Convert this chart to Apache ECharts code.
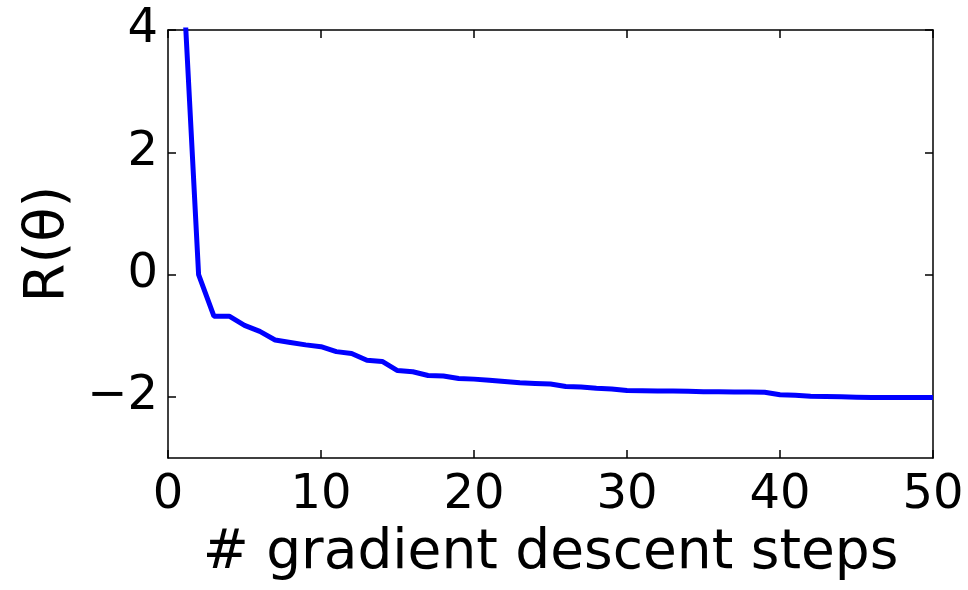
<!DOCTYPE html>
<html>
<head>
<meta charset="utf-8">
<script src="https://cdn.jsdelivr.net/npm/echarts@6/dist/echarts.min.js"></script>
<style>
html,body{margin:0;padding:0;background:#fff;}
#chart{width:968px;height:590px;}
</style>
</head>
<body>
<div id="chart"></div>
<script>
// Data
var steps = [1,2,3,4,5,6,7,8,9,10,11,12,13,14,15,16,17,18,19,20,21,22,23,24,25,26,27,28,29,30,31,32,33,34,35,36,37,38,39,40,41,42,43,44,45,46,47,48,49,50];
var risk = [4.8,0.0,-0.68,-0.68,-0.83,-0.93,-1.07,-1.11,-1.15,-1.18,-1.26,-1.29,-1.40,-1.42,-1.57,-1.59,-1.65,-1.66,-1.70,-1.71,-1.73,-1.75,-1.77,-1.78,-1.79,-1.83,-1.84,-1.86,-1.87,-1.895,-1.90,-1.905,-1.905,-1.91,-1.915,-1.915,-1.92,-1.92,-1.925,-1.965,-1.975,-1.99,-1.995,-2.0,-2.005,-2.01,-2.01,-2.01,-2.01,-2.01];
var xTicks = [0,10,20,30,40,50];
var yTicks = [-2,0,2,4];
var xName = '# gradient descent steps';
var yName = 'R(\u03B8)';

var FONT = "'DejaVu Sans', sans-serif";
var fmt = function (v) { return String(v).replace('-', '\u2212'); };

var chart = echarts.init(document.getElementById('chart'), null, {renderer: 'canvas'});
var axisLine = {show: true, onZero: false, lineStyle: {color: '#000', width: 1.5}};
var tick = {show: true, inside: true, length: 8, lineStyle: {color: '#000', width: 1.5}};

chart.setOption({
  animation: false,
  backgroundColor: '#fff',
  grid: {left: 168, right: 35, top: 30, bottom: 132, containLabel: false},
  xAxis: [{
    type: 'value', min: 0, max: 50, position: 'bottom',
    axisLine: axisLine,
    axisTick: Object.assign({}, tick, {customValues: xTicks}),
    axisLabel: {customValues: xTicks, formatter: fmt, color: '#000', fontFamily: FONT, fontSize: 48, margin: 14},
    splitLine: {show: false},
    name: xName, nameLocation: 'middle', nameGap: 68,
    nameTextStyle: {color: '#000', fontFamily: FONT, fontSize: 55}
  }, {
    type: 'value', min: 0, max: 50, position: 'top',
    axisLine: axisLine,
    axisTick: Object.assign({}, tick, {customValues: xTicks}),
    axisLabel: {show: false},
    splitLine: {show: false}
  }],
  yAxis: [{
    type: 'value', min: -3, max: 4, position: 'left',
    axisLine: axisLine,
    axisTick: Object.assign({}, tick, {customValues: yTicks}),
    axisLabel: {customValues: yTicks, formatter: fmt, color: '#000', fontFamily: FONT, fontSize: 48, margin: 10},
    splitLine: {show: false},
    name: yName, nameLocation: 'middle', nameGap: 88,
    nameTextStyle: {color: '#000', fontFamily: FONT, fontSize: 56}
  }, {
    type: 'value', min: -3, max: 4, position: 'right',
    axisLine: axisLine,
    axisTick: Object.assign({}, tick, {customValues: yTicks}),
    axisLabel: {show: false},
    splitLine: {show: false}
  }],
  series: [{
    type: 'line',
    xAxisIndex: 0, yAxisIndex: 0,
    data: steps.map(function (s, i) { return [s, risk[i]]; }),
    showSymbol: false,
    clip: true,
    lineStyle: {color: '#0000ff', width: 5},
    itemStyle: {color: '#0000ff'}
  }]
});
</script>
</body>
</html>
